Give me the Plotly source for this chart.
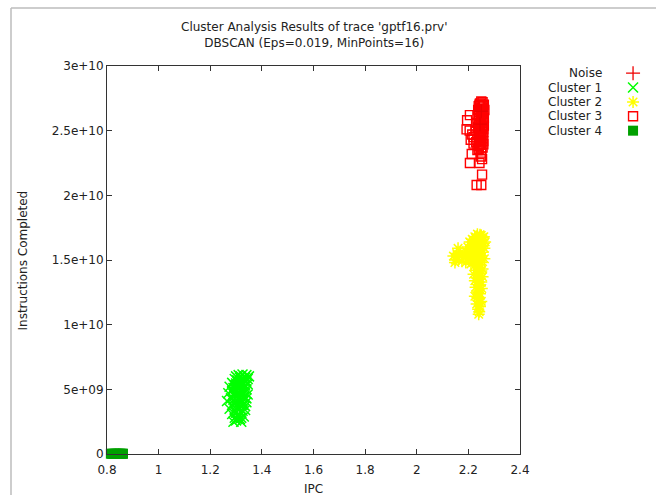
import plotly.graph_objects as go

# ---------------- data ----------------
series_names = ["Noise", "Cluster 1", "Cluster 2", "Cluster 3", "Cluster 4"]

noise_ipc = [2.250, 2.245]
noise_instr = [2.65e10, 2.55e10]

c1_ipc = [1.310, 1.325, 1.340, 1.350, 1.300, 1.315, 1.335, 1.345, 1.295, 1.320,
          1.305, 1.340, 1.285, 1.325, 1.310, 1.345, 1.295, 1.330, 1.275, 1.315,
          1.300, 1.340, 1.285, 1.325, 1.270, 1.310, 1.345, 1.295, 1.330, 1.280,
          1.315, 1.265, 1.300, 1.340, 1.285, 1.325, 1.310, 1.275, 1.295, 1.335,
          1.320, 1.285, 1.305, 1.330, 1.295, 1.315, 1.300, 1.320, 1.290,
          1.318, 1.330, 1.305, 1.335, 1.315, 1.300, 1.335, 1.320, 1.305, 1.290,
          1.330, 1.315, 1.300, 1.335, 1.290, 1.320, 1.305, 1.340, 1.290, 1.325,
          1.310, 1.290, 1.335, 1.300, 1.315, 1.325, 1.300, 1.310, 1.320, 1.305]
c1_instr = [6.10e9, 6.15e9, 6.10e9, 6.00e9, 6.00e9, 5.90e9, 5.90e9, 5.80e9, 5.80e9, 5.70e9,
            5.60e9, 5.60e9, 5.50e9, 5.50e9, 5.40e9, 5.40e9, 5.30e9, 5.20e9, 5.20e9, 5.10e9,
            5.00e9, 5.00e9, 4.90e9, 4.80e9, 4.70e9, 4.70e9, 4.60e9, 4.50e9, 4.40e9, 4.30e9,
            4.20e9, 4.10e9, 4.00e9, 4.00e9, 3.80e9, 3.80e9, 3.60e9, 3.50e9, 3.40e9, 3.40e9,
            3.20e9, 3.10e9, 3.00e9, 2.90e9, 2.80e9, 2.70e9, 2.60e9, 2.50e9, 2.50e9,
            6.00e9, 5.80e9, 5.70e9, 5.70e9, 5.60e9, 5.45e9, 5.30e9, 5.30e9, 5.20e9, 5.10e9,
            5.05e9, 4.90e9, 4.80e9, 4.75e9, 4.65e9, 4.55e9, 4.40e9, 4.30e9, 4.20e9, 4.10e9,
            3.95e9, 3.90e9, 3.70e9, 3.70e9, 3.50e9, 3.35e9, 3.20e9, 3.10e9, 2.80e9, 2.70e9]

c2_ipc = [2.235, 2.250, 2.260, 2.225, 2.240, 2.215, 2.255, 2.230, 2.205, 2.245,
          2.260, 2.220, 2.235, 2.250, 2.210, 2.198, 2.230, 2.262, 2.243, 2.215,
          2.190, 2.255, 2.230, 2.205, 2.170, 2.155, 2.142, 2.160, 2.180, 2.150,
          2.175, 2.200, 2.245, 2.220, 2.262, 2.235, 2.190, 2.210, 2.250, 2.225,
          2.240, 2.255, 2.230, 2.245, 2.220, 2.255, 2.235, 2.225, 2.250, 2.240,
          2.228, 2.252, 2.235, 2.245, 2.225, 2.240, 2.250, 2.232, 2.245, 2.238,
          2.242, 2.240, 2.265, 2.160, 2.148,
          2.245, 2.230, 2.255, 2.220, 2.240, 2.250, 2.225, 2.240, 2.215, 2.250,
          2.235, 2.220, 2.245, 2.210, 2.235, 2.190, 2.165, 2.250, 2.230, 2.215,
          2.245, 2.235, 2.250, 2.240, 2.238, 2.245, 2.238, 2.235, 2.245]
c2_instr = [1.70e10, 1.69e10, 1.68e10, 1.68e10, 1.67e10, 1.66e10, 1.66e10, 1.65e10, 1.64e10, 1.64e10,
            1.63e10, 1.63e10, 1.62e10, 1.61e10, 1.61e10, 1.60e10, 1.60e10, 1.59e10, 1.58e10, 1.58e10,
            1.57e10, 1.56e10, 1.56e10, 1.55e10, 1.56e10, 1.55e10, 1.53e10, 1.52e10, 1.52e10, 1.50e10,
            1.49e10, 1.51e10, 1.53e10, 1.52e10, 1.51e10, 1.50e10, 1.48e10, 1.47e10, 1.48e10, 1.46e10,
            1.44e10, 1.43e10, 1.42e10, 1.40e10, 1.39e10, 1.37e10, 1.36e10, 1.34e10, 1.33e10, 1.31e10,
            1.29e10, 1.28e10, 1.26e10, 1.24e10, 1.22e10, 1.20e10, 1.18e10, 1.16e10, 1.14e10, 1.12e10,
            1.10e10, 1.08e10, 1.64e10, 1.59e10, 1.48e10,
            1.695e10, 1.675e10, 1.675e10, 1.655e10, 1.655e10, 1.625e10, 1.615e10, 1.60e10, 1.595e10, 1.585e10,
            1.575e10, 1.565e10, 1.555e10, 1.54e10, 1.535e10, 1.535e10, 1.535e10, 1.52e10, 1.49e10, 1.50e10,
            1.465e10, 1.45e10, 1.415e10, 1.38e10, 1.33e10, 1.30e10, 1.25e10, 1.21e10, 1.17e10]

c3_ipc = [2.255, 2.245, 2.260, 2.240, 2.252, 2.262, 2.238, 2.248, 2.258, 2.235,
          2.250, 2.260, 2.242, 2.255, 2.232, 2.247, 2.260, 2.238, 2.252, 2.228,
          2.244, 2.258, 2.235, 2.250, 2.220, 2.245, 2.258, 2.230, 2.250, 2.240,
          2.255, 2.235, 2.250, 2.206, 2.195, 2.193, 2.205, 2.209, 2.213, 2.206,
          2.253, 2.253, 2.232, 2.250, 2.220, 2.215, 2.248, 2.243,
          2.250, 2.243, 2.257, 2.248, 2.255, 2.242, 2.252, 2.240, 2.258, 2.248,
          2.240, 2.255, 2.245, 2.258, 2.240, 2.250, 2.242, 2.255, 2.235, 2.250,
          2.245, 2.258, 2.240, 2.250]
c3_instr = [2.72e10, 2.71e10, 2.70e10, 2.69e10, 2.68e10, 2.66e10, 2.66e10, 2.64e10, 2.63e10, 2.62e10,
            2.61e10, 2.60e10, 2.59e10, 2.57e10, 2.56e10, 2.55e10, 2.54e10, 2.53e10, 2.52e10, 2.50e10,
            2.50e10, 2.49e10, 2.47e10, 2.46e10, 2.45e10, 2.43e10, 2.42e10, 2.41e10, 2.40e10, 2.38e10,
            2.37e10, 2.35e10, 2.33e10, 2.62e10, 2.58e10, 2.51e10, 2.50e10, 2.43e10, 2.32e10, 2.25e10,
            2.28e10, 2.16e10, 2.08e10, 2.08e10, 2.40e10, 2.47e10, 2.30e10, 2.25e10,
            2.725e10, 2.70e10, 2.69e10, 2.67e10, 2.65e10, 2.645e10, 2.625e10, 2.60e10, 2.585e10, 2.575e10,
            2.545e10, 2.53e10, 2.515e10, 2.51e10, 2.485e10, 2.475e10, 2.45e10, 2.445e10, 2.43e10, 2.415e10,
            2.39e10, 2.395e10, 2.36e10, 2.35e10]

c4_ipc = [0.815, 0.820, 0.825, 0.830, 0.835, 0.840, 0.845, 0.850, 0.855, 0.860, 0.862]
c4_instr = [2.0e7, 1.5e7, 1.8e7, 2.2e7, 1.6e7, 2.0e7, 1.9e7, 2.1e7, 1.7e7, 2.0e7, 1.8e7]

x_tickvals = [0.8, 1.0, 1.2, 1.4, 1.6, 1.8, 2.0, 2.2, 2.4]
x_ticktext = ["0.8", "1", "1.2", "1.4", "1.6", "1.8", "2", "2.2", "2.4"]
y_tickvals = [0, 5e9, 1e10, 1.5e10, 2e10, 2.5e10, 3e10]
y_ticktext = ["0", "5e+09", "1e+10", "1.5e+10", "2e+10", "2.5e+10", "3e+10"]

title_lines = ["Cluster Analysis Results of trace 'gptf16.prv'",
               "DBSCAN (Eps=0.019, MinPoints=16)"]
x_title = "IPC"
y_title = "Instructions Completed"

# ---------------- styles ----------------
FONT = "DejaVu Sans"
TXT = "#222222"
styles = {
    "Noise": dict(symbol="cross-thin-open", size=10, color="#ee0000", line=dict(width=1.3, color="#ee0000")),
    "Cluster 1": dict(symbol="x-thin-open", size=10, color="#00ff00", line=dict(width=1.5, color="#00ff00")),
    "Cluster 2": dict(symbol="asterisk-open", size=10, color="#ffff00", line=dict(width=1.5, color="#ffff00")),
    "Cluster 3": dict(symbol="square-open", size=9, color="#ff0000", line=dict(width=1.4, color="#ff0000")),
    "Cluster 4": dict(symbol="square", size=10, color="#00a000", line=dict(width=0, color="#00a000")),
}
data = {
    "Noise": (noise_ipc, noise_instr),
    "Cluster 1": (c1_ipc, c1_instr),
    "Cluster 2": (c2_ipc, c2_instr),
    "Cluster 3": (c3_ipc, c3_instr),
    "Cluster 4": (c4_ipc, c4_instr),
}

fig = go.Figure()
for name in ["Cluster 1", "Cluster 2", "Cluster 3", "Cluster 4", "Noise"]:
    xs, ys = data[name]
    fig.add_trace(go.Scatter(x=xs, y=ys, mode="markers", name=name, showlegend=False,
                             marker=styles[name], cliponaxis=False, xaxis="x", yaxis="y"))

# custom gnuplot-like legend (text then symbol) on an auxiliary axis
for i, name in enumerate(series_names):
    fig.add_trace(go.Scatter(x=[0], y=[i], mode="markers", showlegend=False,
                             marker=styles[name], xaxis="x2", yaxis="y2", cliponaxis=False,
                             hoverinfo="skip"))
    fig.add_annotation(text=name, xref="paper", yref="y2", x=0.913, y=i,
                       xanchor="right", yanchor="middle", showarrow=False,
                       font=dict(family=FONT, size=12, color=TXT))

W, H = 656, 495
L, R, T, B = 107, 5, 66, 41
pw = W - L - R
ph = H - T - B
main_right = 413 / pw

axis_common = dict(showgrid=False, zeroline=False, showline=True, linecolor="#333333",
                   linewidth=1, mirror="ticks", ticks="inside", ticklen=5,
                   tickcolor="#333333", tickwidth=1,
                   tickfont=dict(family=FONT, size=12, color=TXT))

fig.update_layout(
    width=W, height=H,
    margin=dict(l=L, r=R, t=T, b=B, pad=0, autoexpand=False),
    paper_bgcolor="white", plot_bgcolor="white",
    showlegend=False,
    xaxis=dict(domain=[0, main_right], range=[0.8, 2.4], tickvals=x_tickvals,
               ticktext=x_ticktext, ticklabelstandoff=5, **axis_common),
    yaxis=dict(range=[0, 3e10], tickvals=y_tickvals, ticktext=y_ticktext, **axis_common),
    xaxis2=dict(domain=[0.94, 0.994], range=[-1, 1], visible=False, anchor="y2"),
    yaxis2=dict(domain=[0.8148, 1.0], range=[4.5, -0.5], visible=False, anchor="x2"),
)

cx = (main_right) / 2
fig.add_annotation(text="<br>".join(title_lines), xref="paper", yref="paper",
                   x=cx, y=(H - B - 35.3) / ph, xanchor="center", yanchor="middle",
                   showarrow=False, font=dict(family=FONT, size=12, color=TXT))
fig.add_annotation(text=x_title, xref="paper", yref="paper", x=cx, y=(H - B - 489) / ph,
                   xanchor="center", yanchor="middle", showarrow=False,
                   font=dict(family=FONT, size=12, color=TXT))
fig.add_annotation(text=y_title, xref="paper", yref="paper", x=(22.5 - L) / pw,
                   y=(H - B - 261) / ph, xanchor="center", yanchor="middle",
                   textangle=-90, showarrow=False,
                   font=dict(family=FONT, size=12, color=TXT))

# window frame line (top and left)
fig.add_shape(type="line", xref="paper", yref="paper",
              x0=(11 - L) / pw, y0=(H - B - 8) / ph, x1=(W + 5 - L) / pw, y1=(H - B - 8) / ph,
              line=dict(color="#bdbdbd", width=1.5))
fig.add_shape(type="line", xref="paper", yref="paper",
              x0=(11 - L) / pw, y0=(H - B - 8) / ph, x1=(11 - L) / pw, y1=(H - B - 500) / ph,
              line=dict(color="#bdbdbd", width=1.5))

fig.write_html("out.html", config={"displayModeBar": False},
               post_script="document.body.style.margin='0';document.body.style.overflow='hidden';")
